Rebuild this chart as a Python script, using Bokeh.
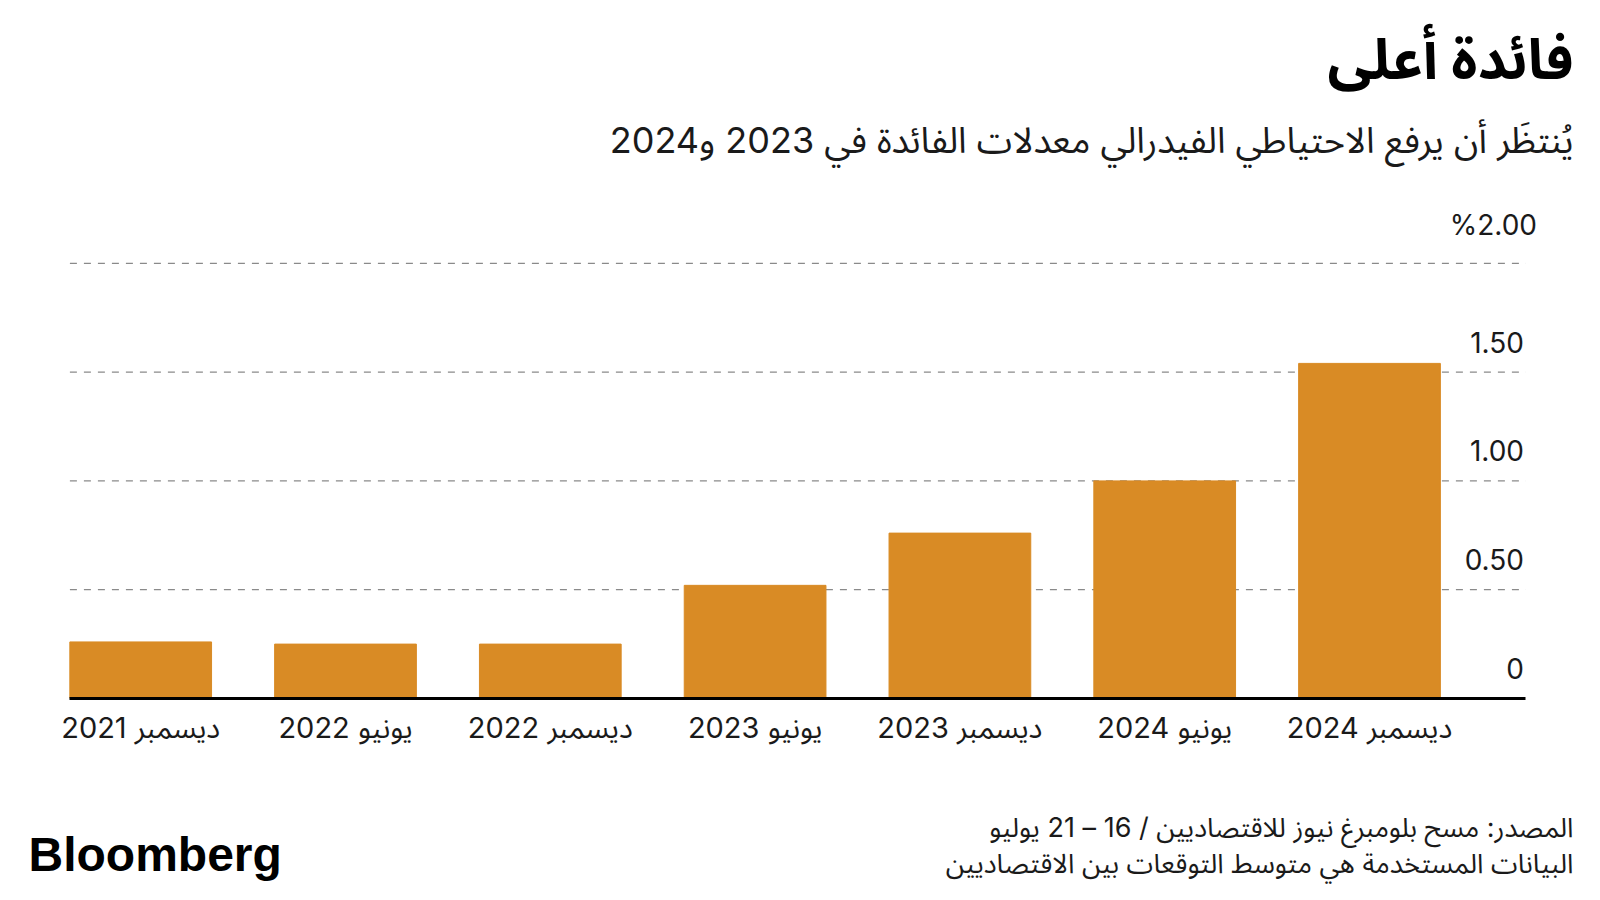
from bokeh.plotting import figure
from bokeh.layouts import column
from bokeh.models import Range1d, FixedTicker
from bokeh.embed import file_html
from bokeh.resources import INLINE
from bokeh.core.properties import value

# ---- data ----
categories = ["ديسمبر 2021", "يونيو 2022", "ديسمبر 2022", "يونيو 2023",
              "ديسمبر 2023", "يونيو 2024", "ديسمبر 2024"]
rates = [0.26, 0.25, 0.25, 0.52, 0.76, 1.00, 1.54]
y_ticks = [0, 0.5, 1.0, 1.5, 2.0]
y_tick_labels = ["0", "0.50", "1.00", "1.50", "%2.00"]

title_text = "فائدة أعلى"
subtitle_text = "يُنتظَر أن يرفع الاحتياطي الفيدرالي معدلات الفائدة في 2023 و2024"
source_text = "المصدر: مسح بلومبرغ نيوز للاقتصاديين / 16 – 21 يوليو"
note_text = "البيانات المستخدمة هي متوسط التوقعات بين الاقتصاديين"
brand_text = "Bloomberg"

# ---- style ----
BAR_COLOR = "#d98b25"
GRID_COLOR = "#8a8a8a"
TEXT_COLOR = "#1a1a1a"
AR_FONT = "Inter, 'Noto Sans Arabic', 'DejaVu Sans', sans-serif"
NUM_FONT = "Inter"

W = 1584
HEAD_H, CHART_H, FOOT_H = 200, 560, 124
RIGHT_EDGE = 1573


def blank(h):
    f = figure(width=W, height=h, output_backend="svg", toolbar_location=None, tools="",
               title=None, x_range=Range1d(0, W), y_range=Range1d(h, 0),
               x_axis_location=None, y_axis_location=None,
               min_border=0, outline_line_color=None,
               background_fill_color="white", border_fill_color="white")
    f.xgrid.visible = False
    f.ygrid.visible = False
    return f


# ---- header ----
head = blank(HEAD_H)
head.text(x=[RIGHT_EDGE], y=[58], text=[title_text], text_align="right",
          text_baseline="alphabetic", text_font=value(AR_FONT), text_font_size="56px",
          text_font_style="bold", text_color="black")
head.text(x=[RIGHT_EDGE], y=[139], text=[subtitle_text], text_align="right",
          text_baseline="alphabetic", text_font=value(AR_FONT), text_font_size="36px",
          text_color=TEXT_COLOR)

# ---- chart ----
idx = list(range(len(categories)))
PX_PER_CAT = 204.8
PX_PER_UNIT = 217.6
BAR_W = 0.692
FRAME_H = 498
X_START = -0.3457                       # left end of gridlines / axis
GRID_END = len(categories) - 1 + 0.764  # right end of gridlines / axis
VIEW_START = X_START - 69.4 / PX_PER_CAT
VIEW_END = VIEW_START + W / PX_PER_CAT
Y_TOP = FRAME_H / PX_PER_UNIT

p = figure(width=W, height=CHART_H, output_backend="svg", toolbar_location=None, tools="",
           title=None, x_range=Range1d(VIEW_START, VIEW_END), y_range=Range1d(0, Y_TOP),
           min_border_left=0, min_border_right=0, min_border_top=0,
           min_border_bottom=CHART_H - FRAME_H, y_axis_location=None,
           outline_line_color=None, background_fill_color="white",
           border_fill_color="white")
p.xgrid.visible = False
p.ygrid.visible = False

grid_y = y_ticks[1:]
p.segment(x0=[X_START] * len(grid_y), x1=[GRID_END] * len(grid_y), y0=grid_y, y1=grid_y,
          line_color=GRID_COLOR, line_dash="7 7", line_width=1.2)

p.vbar(x=idx, top=rates, width=BAR_W, color=BAR_COLOR)

xa = p.xaxis[0]
xa.ticker = FixedTicker(ticks=idx)
xa.bounds = (X_START, GRID_END)
xa.major_label_overrides = {i: c for i, c in zip(idx, categories)}
xa.axis_line_width = 3
xa.axis_line_color = "black"
xa.major_tick_line_color = None
xa.minor_tick_line_color = None
xa.major_label_standoff = 5
xa.major_label_text_font_size = "29px"
xa.major_label_text_font = AR_FONT
xa.major_label_text_color = TEXT_COLOR

x_offsets = [11 if lab.startswith("%") else -2 for lab in y_tick_labels]
y_offsets = [-38 if lab.startswith("%") else -30 for lab in y_tick_labels]
p.text(x=[GRID_END] * len(y_ticks), y=y_ticks, text=y_tick_labels,
       x_offset=x_offsets, y_offset=y_offsets, text_align="right",
       text_baseline="alphabetic", text_font=value(NUM_FONT), text_font_size="28px",
       text_color=TEXT_COLOR)

# ---- footer ----
foot = blank(FOOT_H)
foot.text(x=[RIGHT_EDGE], y=[67], text=[source_text], text_align="right",
          text_baseline="alphabetic", text_font=value(AR_FONT), text_font_size="27px",
          text_color=TEXT_COLOR)
foot.text(x=[RIGHT_EDGE], y=[103], text=[note_text], text_align="right",
          text_baseline="alphabetic", text_font=value(AR_FONT), text_font_size="27px",
          text_color=TEXT_COLOR)
foot.text(x=[28], y=[94], text=[brand_text], text_align="left",
          text_baseline="alphabetic", text_font=value("Liberation Sans"),
          text_font_size="48px", text_font_style="bold", text_color="black")

layout = column(head, p, foot, spacing=0)
open("out.html", "w").write(file_html(layout, INLINE))
